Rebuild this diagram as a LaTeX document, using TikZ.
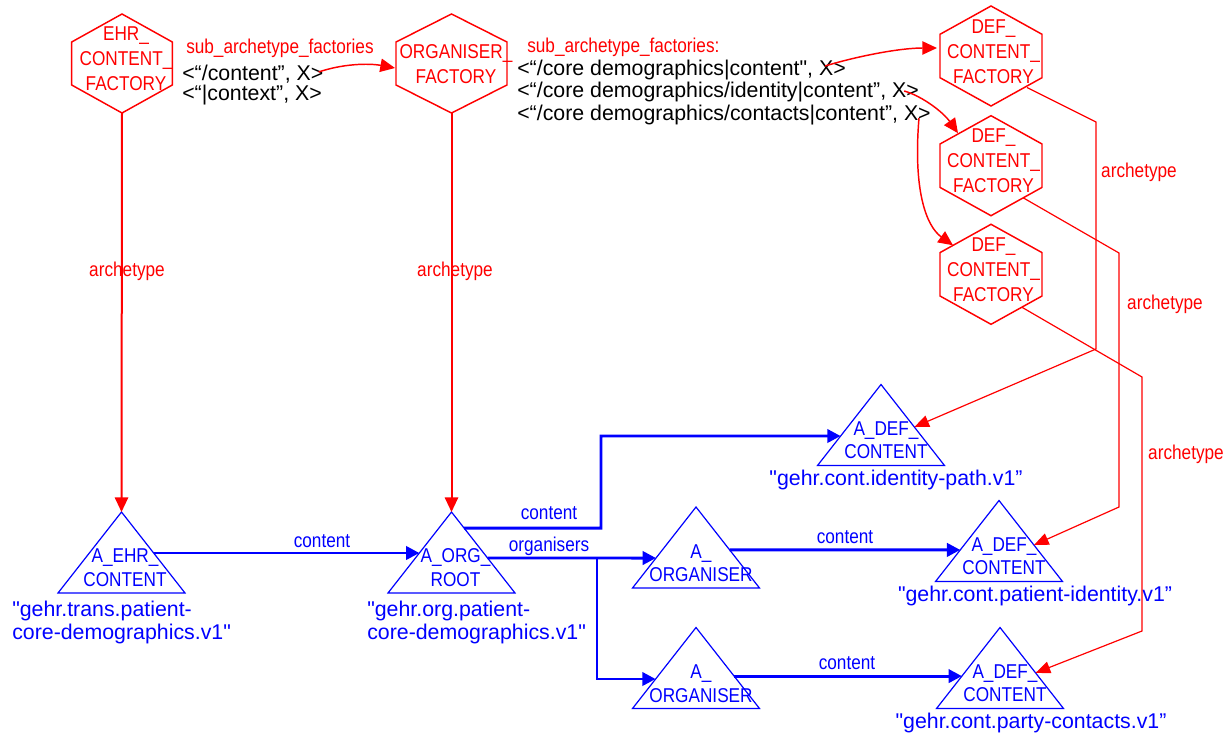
\documentclass[tikz,border=0pt]{standalone}
\usepackage{fontspec}
\newfontfamily\plainfont{Liberation Sans}
\newfontfamily\narrowfont[FakeStretch=0.86]{Liberation Sans}
\usetikzlibrary{arrows.meta,calc}
\definecolor{facred}{RGB}{255,0,0}
\definecolor{archblue}{RGB}{0,0,255}

% hexagon (pointy top) drawn on the border box of a factory node
\newcommand\drawhex[1]{\draw[hexline] (#1.north)
  -- ($(#1.north east)!0.283!(#1.south east)$)
  -- ($(#1.north east)!0.717!(#1.south east)$)
  -- (#1.south)
  -- ($(#1.north west)!0.717!(#1.south west)$)
  -- ($(#1.north west)!0.283!(#1.south west)$) -- cycle;}
% triangle drawn on the border box of an archetype node
\newcommand\drawtri[1]{\draw[triline] (#1.north) -- (#1.south east) -- (#1.south west) -- cycle;}

\tikzset{
  hexbox/.style={draw=none, inner sep=0pt, outer sep=0pt, minimum height=74.25pt},
  hexline/.style={draw=facred, line width=1.1pt, line join=miter},
  tribox/.style={draw=none, inner sep=0pt, outer sep=0pt, minimum width=95.25pt, minimum height=60.75pt},
  triline/.style={draw=archblue, line width=0.9pt},
  factext/.style={text=facred, font=\narrowfont\fontsize{15pt}{18.6pt}\selectfont, align=center, inner sep=0pt},
  archtext/.style={text=archblue, font=\narrowfont\fontsize{15pt}{17.6pt}\selectfont, align=center, inner sep=0pt},
  idtext/.style={text=archblue, font=\plainfont\fontsize{16pt}{17.25pt}\selectfont, inner sep=0pt},
  pathtext/.style={text=black, font=\plainfont\fontsize{16pt}{17pt}\selectfont, inner sep=0pt, anchor=west},
  redlabel/.style={text=facred, font=\narrowfont\fontsize{15pt}{18pt}\selectfont, inner sep=0pt},
  bluelabel/.style={text=archblue, font=\narrowfont\fontsize{15pt}{18pt}\selectfont, inner sep=0pt},
  archlink/.style={draw=facred, line width=1.5pt, -{Triangle[length=11pt,width=10pt]}},
  factlink/.style={draw=facred, line width=1.1pt, -{Triangle[length=11pt,width=10pt]}},
  deflink/.style={draw=facred, line width=0.9pt, -{Triangle[length=11pt,width=9pt]}},
  contlink/.style={draw=archblue, line width=2.2pt, -{Triangle[length=10pt,width=10pt]}},
}

\begin{document}
\begin{tikzpicture}[x=0.75pt, y=-0.75pt]
\useasboundingbox (0,0) rectangle (1231,735);
\fill[white] (0,0) rectangle (1231,735);

% ---------- factories ----------
\node[hexbox, minimum width=75.5pt] (ehr) at (122,63.5) {};
\node[hexbox, minimum width=83.25pt] (org) at (451.5,63.5) {};
\node[hexbox, minimum width=76.5pt, minimum height=75pt] (def1) at (991,56) {};
\node[hexbox, minimum width=76.5pt, minimum height=75pt] (def2) at (991,165.7) {};
\node[hexbox, minimum width=76.5pt, minimum height=75pt] (def3) at (991,274.3) {};
\drawhex{ehr}
\drawhex{org}
\drawhex{def1}
\drawhex{def2}
\drawhex{def3}
\node[factext] (ehrname) at (126,59) {EHR\_\\CONTENT\_\\FACTORY};
\node[factext] (orgname) at (456,64) {ORGANISER\_\\FACTORY};
\node[factext] (def1name) at (993.5,51.5) {DEF\_\\CONTENT\_\\FACTORY};
\node[factext] (def2name) at (993.5,161) {DEF\_\\CONTENT\_\\FACTORY};
\node[factext] (def3name) at (993.5,270) {DEF\_\\CONTENT\_\\FACTORY};

% ---------- sub archetype factory tables ----------
\node[redlabel, anchor=west] (sub1) at (186,48) {sub\_archetype\_factories};
\node[pathtext] (p1) at (182,74) {<“/content”, X>};
\node[pathtext] (p2) at (182,95) {<“|context”, X>};
\node[redlabel, anchor=west] (sub2) at (527,47) {sub\_archetype\_factories:};
\node[pathtext] (q1) at (517,70) {<“/core demographics|content", X>};
\node[pathtext] (q2) at (517,92) {<“/core demographics/identity|content”, X>};
\node[pathtext] (q3) at (517,115) {<“/core demographics/contacts|content”, X>};

% ---------- archetypes ----------
\node[tribox] (tehr) at (121.5,552.5) {};
\node[tribox] (torg) at (451.5,552.5) {};
\node[tribox] (torg1) at (696,547.5) {};
\node[tribox] (torg2) at (696,668) {};
\node[tribox] (tdef1) at (881,425) {};
\node[tribox] (tdef2) at (999,541) {};
\node[tribox] (tdef3) at (1000,668) {};
\drawtri{tehr}
\drawtri{torg}
\drawtri{torg1}
\drawtri{torg2}
\drawtri{tdef1}
\drawtri{tdef2}
\drawtri{tdef3}
\node[archtext] (tehrname) at (125,567.5) {A\_EHR\_\\CONTENT};
\node[archtext] (torgname) at (455.5,567.5) {A\_ORG\_\\ROOT};
\node[archtext] (torg1name) at (701,563) {A\_\\ORGANISER};
\node[archtext] (torg2name) at (701,683.5) {A\_\\ORGANISER};
\node[archtext] (tdef1name) at (886,440) {A\_DEF\_\\CONTENT};
\node[archtext] (tdef2name) at (1004,556) {A\_DEF\_\\CONTENT};
\node[archtext] (tdef3name) at (1005,683) {A\_DEF\_\\CONTENT};

\node[idtext, align=left, anchor=west] (tehrid) at (12,622) {"gehr.trans.patient-\\core-demographics.v1"};
\node[idtext, align=left, anchor=west] (torgid) at (367,622) {"gehr.org.patient-\\core-demographics.v1"};
\node[idtext] (tdef1id) at (896,480) {"gehr.cont.identity-path.v1”};
\node[idtext] (tdef2id) at (1035,596) {"gehr.cont.patient-identity.v1”};
\node[idtext] (tdef3id) at (1031,723) {"gehr.cont.party-contacts.v1”};

% ---------- factory links ----------
\coordinate (s1) at ($(p1.east)+(-5,-2)$);
\coordinate (s2) at ($(q1.east)+(-21,-4)$);
\coordinate (s3) at ($(q2.east)+(-15,-1)$);
\coordinate (s4) at ($(q3.east)+(-12,3)$);
\coordinate (e1) at ($(org.west)+(-1,4.5)$);
\coordinate (e2) at ($(def1.west)+(-3,-8)$);
\coordinate (e3) at ($(def2.center)+(-33,-32.5)$);
\coordinate (e4) at ($(def3.center)+(-38,-29)$);
\draw[factlink] (s1) .. controls (342,64) and (368,63) .. (e1);
\draw[factlink] (s2) .. controls (858,56) and (900,48) .. (e2);
\draw[factlink] (s3) .. controls (922,96) and (943,112) .. (e3);
\draw[factlink] (s4) .. controls (913,190) and (926,226) .. (e4);

% ---------- archetype links ----------
\draw[archlink] (ehr.south) -- (tehr.north);
\draw[archlink] (org.south) -- (torg.north);
\node[redlabel] (la1) at (127,271) {archetype};
\node[redlabel] (la2) at (455,271) {archetype};

\coordinate (d1s) at ($(def1.center)+(36,31.5)$);
\coordinate (d2s) at ($(def2.center)+(32,32)$);
\coordinate (d3s) at ($(def3.center)+(31,33)$);
\coordinate (r1a) at (1096,122);
\coordinate (r1b) at (1096,349);
\coordinate (r2a) at (1119,253);
\coordinate (r2b) at (1119,507);
\coordinate (r3a) at (1142,377);
\coordinate (r3b) at (1142,631);
\coordinate (d1e) at ($(tdef1.north)!0.525!(tdef1.south east)$);
\coordinate (d2e) at ($(tdef2.north)!0.55!(tdef2.south east)$);
\coordinate (d3e) at ($(tdef3.north)!0.56!(tdef3.south east)$);
\draw[deflink] (d1s) -- (r1a) -- (r1b) -- (d1e);
\draw[deflink] (d2s) -- (r2a) -- (r2b) -- (d2e);
\draw[deflink] (d3s) -- (r3a) -- (r3b) -- (d3e);
\node[redlabel] (la3) at (1139,172) {archetype};
\node[redlabel] (la4) at (1165,304) {archetype};
\node[redlabel] (la5) at (1186,454) {archetype};

% ---------- content / organiser links ----------
\draw[contlink] ($(tehr.north)!0.506!(tehr.south east)$) -- ($(torg.north)!0.506!(torg.south west)$);
\node[bluelabel] (lc1) at (322,541) {content};

\coordinate (j1) at (601,436);
\draw[contlink] ($(torg.north)!0.2!(torg.south east)$) -| (j1) -- ($(tdef1.north)!0.636!(tdef1.south west)$);
\node[bluelabel] (lc2) at (549,513) {content};

\coordinate (o1s) at ($(torg.north)!0.568!(torg.south east)$);
\coordinate (o1e) at ($(torg1.north)!0.63!(torg1.south west)$);
\coordinate (jx) at (597,0);
\coordinate (j2) at (o1s -| jx);
\coordinate (o2e) at ($(torg2.north)!0.636!(torg2.south west)$);
\draw[contlink] (o1s) -- (o1e);
\draw[contlink] (j2) |- (o2e);
\node[bluelabel] (lorg) at (549,546) {organisers};

\draw[contlink] ($(torg1.north)!0.53!(torg1.south east)$) -- ($(tdef2.north)!0.61!(tdef2.south west)$);
\node[bluelabel] (lc3) at (845,537) {content};
\draw[contlink] ($(torg2.north)!0.6!(torg2.south east)$) -- ($(tdef3.north)!0.6!(tdef3.south west)$);
\node[bluelabel] (lc4) at (847,663) {content};
\end{tikzpicture}
\end{document}
